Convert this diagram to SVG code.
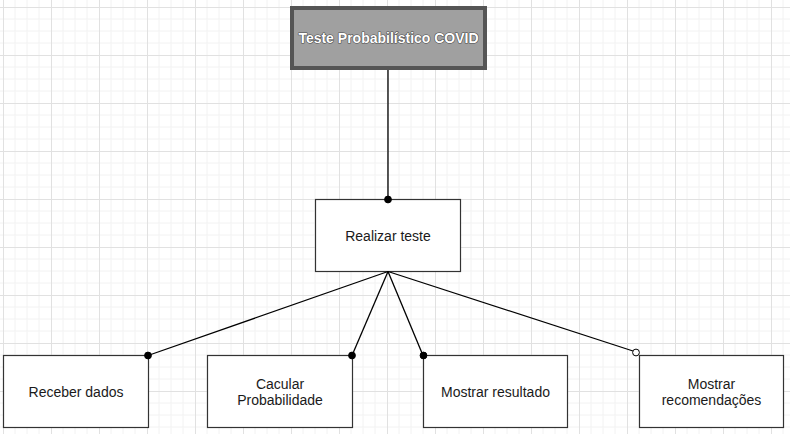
<svg xmlns="http://www.w3.org/2000/svg" width="790" height="434" viewBox="0 0 790 434">
<style>
.box{fill:#ffffff;stroke:#333333;stroke-width:1.2}
.lbl{font-family:"Liberation Sans",Arial,sans-serif;font-size:14px;fill:#1a1a1a;text-anchor:middle}
.title{font-family:"Liberation Sans",Arial,sans-serif;font-size:14px;font-weight:bold;fill:#ffffff;text-anchor:middle;stroke:#4a4a4a;stroke-width:1.2;paint-order:stroke;stroke-linejoin:round}
.edge{stroke:#000000;stroke-width:1.3;fill:none}
.dot{fill:#000000;stroke:#000000;stroke-width:1}
.odot{fill:#ffffff;stroke:#000000;stroke-width:1}
</style>
<defs>
<pattern id="grid" patternUnits="userSpaceOnUse" x="3" y="7" width="48" height="48">
<path d="M12 0V48M24 0V48M36 0V48M0 12H48M0 24H48M0 36H48" stroke="#f2f2f2" stroke-width="1" fill="none"/>
<path d="M0.5 0V48M0 0.5H48" stroke="#e1e1e1" stroke-width="1" fill="none"/>
</pattern>
</defs>
<rect width="790" height="434" fill="#ffffff"/>
<rect width="790" height="434" fill="url(#grid)"/>
<g id="node-title">
<rect x="292" y="8" width="193" height="60" fill="#a0a0a0" stroke="#555555" stroke-width="4"/>
<text class="title" x="388.5" y="43">Teste Probabilístico COVID</text>
</g>
<g id="node-realizar">
<rect class="box" x="315.5" y="199.5" width="145" height="72"/>
<text class="lbl" x="388" y="240.5">Realizar teste</text>
</g>
<g id="node-receber">
<rect class="box" x="3.5" y="355.5" width="145" height="72"/>
<text class="lbl" x="76" y="396.5">Receber dados</text>
</g>
<g id="node-calcular">
<rect class="box" x="207.5" y="355.5" width="145" height="72"/>
<text class="lbl" x="280" y="388.5">Cacular</text>
<text class="lbl" x="280" y="405">Probabilidade</text>
</g>
<g id="node-resultado">
<rect class="box" x="423.5" y="355.5" width="144" height="72"/>
<text class="lbl" x="495.5" y="396.5">Mostrar resultado</text>
</g>
<g id="node-recomendacoes">
<rect class="box" x="639.5" y="355.5" width="144" height="72"/>
<text class="lbl" x="711.5" y="388.5">Mostrar</text>
<text class="lbl" x="711.5" y="405">recomendações</text>
</g>
<g id="connectors">
<line class="edge" x1="388" y1="70" x2="388" y2="199.5"/>
<line class="edge" x1="388" y1="271.5" x2="148" y2="355.5"/>
<line class="edge" x1="388" y1="271.5" x2="352" y2="355.5"/>
<line class="edge" x1="388" y1="271.5" x2="423" y2="355.5"/>
<line class="edge" x1="388" y1="271.5" x2="633" y2="351"/>
<circle class="dot" cx="388" cy="199.5" r="3.4"/>
<circle class="dot" cx="148" cy="355.5" r="3.4"/>
<circle class="dot" cx="352" cy="355.5" r="3.4"/>
<circle class="dot" cx="423.5" cy="355.5" r="3.4"/>
<circle class="odot" cx="636" cy="352.5" r="3.4"/>
</g>
</svg>
